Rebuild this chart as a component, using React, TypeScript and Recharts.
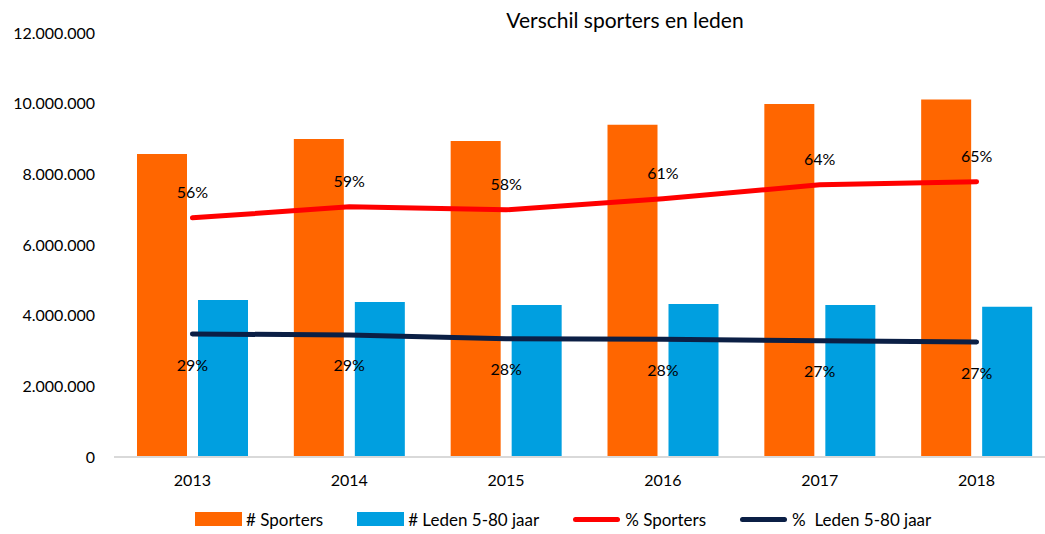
import { ComposedChart, Bar, Line, XAxis, YAxis, Legend, LabelList } from 'recharts';

const years = ['2013', '2014', '2015', '2016', '2017', '2018'];
const sporters = [8575000, 9000000, 8940000, 9400000, 9990000, 10120000];
const leden = [4440000, 4390000, 4300000, 4330000, 4300000, 4250000];
const pctSporters = [0.564, 0.59, 0.583, 0.609, 0.642, 0.649];
const pctLeden = [0.29, 0.288, 0.279, 0.278, 0.274, 0.271];
const yTicks = [0, 2000000, 4000000, 6000000, 8000000, 10000000, 12000000];

const chartData = years.map((year, i) => ({
  year,
  sporters: sporters[i],
  leden: leden[i],
  pctSporters: pctSporters[i],
  pctLeden: pctLeden[i],
}));

const FONT = 'Lato, "Open Sans", sans-serif';

const formatNumber = (value: number) =>
  value === 0 ? '0' : value.toString().replace(/\B(?=(\d{3})+(?!\d))/g, '.');

const pctLabel = (dy: number) => (props: any) => {
  const { x, y, value } = props;
  return (
    <text x={x} y={y + dy} textAnchor="middle" dominantBaseline="central" fontSize={16} fill="#000" fontFamily={FONT}>
      {`${Math.round(value * 100)}%`}
    </text>
  );
};

const legendItems = [
  { label: '# Sporters', color: '#FF6600', type: 'box' },
  { label: '# Leden 5-80 jaar', color: '#009FE0', type: 'box' },
  { label: '% Sporters', color: '#FF0000', type: 'line' },
  { label: '%  Leden 5-80 jaar', color: '#0B1F45', type: 'line' },
];

const renderLegend = () => (
  <div style={{ display: 'flex', justifyContent: 'flex-start', paddingLeft: 195, height: 30, alignItems: 'center', fontFamily: FONT, fontSize: 17, color: '#000' }}>
    {legendItems.map((item) => (
      <div key={item.label} style={{ display: 'flex', alignItems: 'center', marginRight: 34 }}>
        {item.type === 'box' ? (
          <span style={{ display: 'inline-block', width: 47, height: 14, background: item.color, marginRight: 4 }} />
        ) : (
          <span style={{ display: 'inline-block', width: 47, height: 5, borderRadius: 3, background: item.color, marginRight: 5 }} />
        )}
        <span style={{ whiteSpace: 'pre' }}>{item.label}</span>
      </div>
    ))}
  </div>
);

const App = () => {
  return (
    <div style={{ position: 'absolute', left: 0, top: 0, width: 1045, height: 534, overflow: 'hidden', background: '#fff' }}>
      <div style={{ position: 'absolute', top: 7, left: 0, width: 1250, textAlign: 'center', fontFamily: FONT, fontSize: 21, color: '#000' }}>
        Verschil sporters en leden
      </div>
      <ComposedChart
        width={1070}
        height={534}
        data={chartData}
        margin={{ top: 33, right: 15, bottom: 0, left: 0 }}
        barSize={50}
        barGap={11}
      >
        <XAxis
          dataKey="year"
          height={47}
          axisLine={{ stroke: '#D9D9D9', strokeWidth: 2 }}
          tickLine={false}
          tickMargin={12}
          tick={{ fill: '#000', fontSize: 16, fontFamily: FONT }}
        />
        <YAxis
          yAxisId="left"
          width={114}
          domain={[0, 12000000]}
          ticks={yTicks}
          axisLine={false}
          tickLine={false}
          tickMargin={13}
          tickFormatter={formatNumber}
          tick={{ fill: '#000', fontSize: 16, fontFamily: FONT }}
        />
        <YAxis yAxisId="pct" orientation="right" domain={[0, 1]} hide />
        <Legend verticalAlign="bottom" content={renderLegend} />
        <Bar yAxisId="left" dataKey="sporters" fill="#FF6600" isAnimationActive={false} />
        <Bar yAxisId="left" dataKey="leden" fill="#009FE0" isAnimationActive={false} />
        <Line
          yAxisId="pct"
          dataKey="pctSporters"
          stroke="#FF0000"
          strokeWidth={5}
          strokeLinecap="round"
          dot={false}
          isAnimationActive={false}
        >
          <LabelList dataKey="pctSporters" content={pctLabel(-26)} />
        </Line>
        <Line
          yAxisId="pct"
          dataKey="pctLeden"
          stroke="#0B1F45"
          strokeWidth={5}
          strokeLinecap="round"
          dot={false}
          isAnimationActive={false}
        >
          <LabelList dataKey="pctLeden" content={pctLabel(30)} />
        </Line>
      </ComposedChart>
    </div>
  );
};

export default App;
